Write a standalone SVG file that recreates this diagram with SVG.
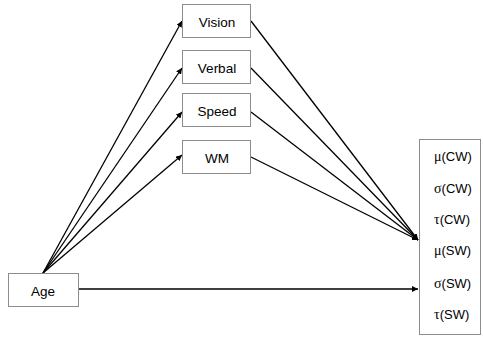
<svg xmlns="http://www.w3.org/2000/svg" width="483" height="348" viewBox="0 0 483 348">
<style>
.box{fill:#fff;stroke:#8c8c8c;stroke-width:1}
.lbl{font-family:"Liberation Sans",Arial,sans-serif;font-size:13.5px;fill:#000;text-anchor:middle;dominant-baseline:central}
.out{font-family:"Liberation Sans",Arial,sans-serif;font-size:13px;fill:#000;dominant-baseline:central}
.g{font-family:"Liberation Serif","Times New Roman",serif;font-size:14px}
.c{stroke:#000;stroke-width:1.3;fill:none;marker-end:url(#ah)}
</style>
<defs>
<marker id="ah" viewBox="0 0 10 10" refX="10" refY="5" markerWidth="6" markerHeight="6" orient="auto" markerUnits="userSpaceOnUse">
<path d="M0,0 L10,5 L0,10 z" fill="#000"/>
</marker>
</defs>
<g id="connectors">
<line class="c" x1="43" y1="273" x2="182" y2="21"/>
<line class="c" x1="43" y1="273" x2="182" y2="68"/>
<line class="c" x1="43" y1="273" x2="182" y2="112"/>
<line class="c" x1="43" y1="273" x2="182" y2="155"/>
<line class="c" x1="251" y1="21" x2="418" y2="240"/>
<line class="c" x1="251" y1="68" x2="418" y2="240"/>
<line class="c" x1="251" y1="112" x2="418" y2="240"/>
<line class="c" x1="251" y1="157" x2="418" y2="240"/>
<line class="c" x1="78" y1="289" x2="418" y2="289"/>
</g>
<g id="vision"><rect class="box" x="182.5" y="4.5" width="68" height="33"/><text class="lbl" x="217" y="22">Vision</text></g>
<g id="verbal"><rect class="box" x="182.5" y="50.5" width="68" height="33"/><text class="lbl" x="217" y="68">Verbal</text></g>
<g id="speed"><rect class="box" x="182.5" y="93.5" width="68" height="33"/><text class="lbl" x="217" y="111">Speed</text></g>
<g id="wm"><rect class="box" x="182.5" y="140.5" width="68" height="33"/><text class="lbl" x="217" y="158">WM</text></g>
<g id="age"><rect class="box" x="8.5" y="273.5" width="70" height="33"/><text class="lbl" x="43" y="291">Age</text></g>
<g id="outcomes"><rect class="box" x="419.5" y="139.5" width="61" height="195"/>
<text class="out" x="434" y="156"><tspan class="g">μ</tspan>(CW)</text>
<text class="out" x="434" y="188"><tspan class="g">σ</tspan>(CW)</text>
<text class="out" x="434" y="219"><tspan class="g">τ</tspan>(CW)</text>
<text class="out" x="434" y="250"><tspan class="g">μ</tspan>(SW)</text>
<text class="out" x="434" y="283"><tspan class="g">σ</tspan>(SW)</text>
<text class="out" x="434" y="314"><tspan class="g">τ</tspan>(SW)</text>
</g>
</svg>
